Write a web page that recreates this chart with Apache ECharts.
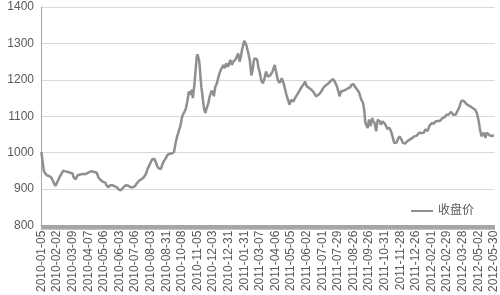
<!DOCTYPE html>
<html>
<head>
<meta charset="utf-8">
<script src="https://cdn.jsdelivr.net/npm/echarts@6/dist/echarts.min.js"></script>
<style>
html,body{margin:0;padding:0;background:#fff;}
#chart{width:500px;height:295px;}
</style>
</head>
<body>
<div id="chart"></div>
<script>
var seriesName = '收盘价';
var tickLabels = ['2010-01-05','2010-02-02','2010-03-09','2010-04-07','2010-05-06','2010-06-03','2010-07-06','2010-08-03','2010-08-31','2010-10-08','2010-11-05','2010-12-03','2010-12-31','2011-01-31','2011-03-07','2011-04-06','2011-05-05','2011-06-02','2011-07-01','2011-07-29','2011-08-26','2011-09-26','2011-10-31','2011-11-28','2011-12-26','2012-02-01','2012-02-29','2012-03-28','2012-05-02','2012-05-30'];
var daysPerLabel = 20;
var closePrices = [
1002,985,968,952,946,941,944,938,943,941,936,940,937,931,927,922,916,912,909,914,918,
923,927,931,936,940,943,945,951,955,953,949,952,950,947,950,946,945,948,950,943,
934,932,929,927,933,937,939,941,938,940,937,939,942,940,938,941,943,940,944,946,
945,948,950,952,949,951,950,947,945,947,945,939,932,929,927,925,923,921,920,917,
918,918,912,909,907,905,908,911,913,914,911,909,911,908,909,906,905,902,899,897,
895,897,900,902,905,907,909,911,914,912,910,908,906,905,904,903,905,907,908,909,
912,915,918,920,923,924,926,927,927,929,932,933,935,942,949,955,960,964,969,973,
978,982,984,986,983,978,972,965,961,958,956,955,955,961,968,973,977,980,982,987,
993,995,998,997,995,996,998,999,1000,1002,1015,1027,1036,1045,1052,1059,1066,1073,1084,1095,
1103,1107,1111,1114,1120,1130,1141,1155,1168,1163,1159,1166,1173,1150,1168,1185,1210,1236,1262,1270,
1271,1255,1235,1205,1180,1164,1145,1127,1117,1109,1116,1123,1130,1136,1148,1157,1163,1170,1173,1164,
1155,1170,1182,1187,1191,1200,1209,1216,1223,1228,1232,1237,1241,1236,1232,1239,1245,1240,1236,1238,
1247,1255,1248,1241,1246,1250,1253,1255,1257,1259,1266,1273,1262,1250,1252,1268,1282,1290,1300,1307,
1309,1302,1293,1283,1275,1265,1255,1235,1212,1220,1232,1250,1259,1262,1264,1257,1250,1236,1227,1218,
1207,1197,1193,1191,1198,1205,1215,1223,1216,1209,1211,1214,1212,1209,1216,1222,1227,1235,1241,1230,
1220,1210,1200,1195,1192,1191,1198,1205,1199,1195,1186,1177,1168,1159,1152,1145,1139,1132,1139,1145,
1144,1142,1141,1146,1150,1152,1155,1160,1164,1168,1172,1175,1177,1182,1186,1188,1192,1195,1188,1182,
1179,1177,1178,1177,1175,1173,1171,1168,1166,1165,1162,1155,1150,1156,1159,1162,1164,1166,1168,1173,
1177,1180,1182,1184,1186,1188,1190,1191,1194,1195,1198,1200,1201,1202,1199,1195,1190,1186,1180,1173,
1164,1155,1162,1168,1171,1173,1170,1168,1169,1173,1175,1176,1177,1175,1173,1180,1186,1189,1191,1188,
1186,1181,1177,1175,1174,1173,1166,1159,1152,1145,1141,1138,1127,1110,1085,1078,1082,1068,1080,1091,
1082,1073,1085,1095,1088,1084,1082,1070,1059,1076,1091,1093,1095,1085,1077,1082,1086,1084,1082,1080,
1077,1072,1066,1064,1066,1068,1063,1059,1052,1045,1036,1027,1025,1023,1028,1032,1038,1043,1045,1043,
1041,1034,1027,1025,1023,1025,1027,1030,1032,1034,1036,1036,1035,1037,1040,1041,1043,1045,1048,1050,
1047,1045,1050,1055,1057,1059,1054,1050,1053,1055,1060,1064,1061,1059,1060,1066,1073,1075,1077,1081,
1084,1082,1080,1083,1086,1084,1082,1087,1090,1091,1088,1086,1091,1095,1094,1093,1098,1102,1104,1105,
1105,1105,1107,1109,1112,1114,1110,1104,1100,1103,1105,1110,1114,1116,1118,1127,1136,1141,1144,1145,
1143,1141,1138,1135,1134,1132,1130,1129,1128,1127,1126,1125,1122,1120,1119,1118,1114,1109,1100,1091,
1078,1064,1055,1045,1045,1050,1055,1048,1041,1048,1055,1052,1050,1048,1046,1045,1046,1047,1049,1048
];
var yMin = 800, yMax = 1400, yStep = 100;

// categories: one per trading day; every 20th carries a tick label
var categories = closePrices.map(function (v, i) {
  var k = Math.floor(i / daysPerLabel);
  return (i % daysPerLabel === 0) ? tickLabels[k] : tickLabels[k] + '#' + (i % daysPerLabel);
});

var fontFam = '"Liberation Sans", Arial, "Noto Sans CJK SC", sans-serif';
var chart = echarts.init(document.getElementById('chart'), null, {renderer: 'canvas'});
chart.setOption({
  animation: false,
  backgroundColor: '#ffffff',
  grid: {left: 41, right: 3, top: 7, bottom: 67, containLabel: false},
  legend: {
    data: [seriesName],
    left: 406, top: 200,
    icon: 'rect', itemWidth: 22, itemHeight: 2,
    textStyle: {fontSize: 12, color: '#595959', fontFamily: fontFam}
  },
  xAxis: {
    type: 'category',
    data: categories,
    boundaryGap: true,
    axisLine: {show: true, lineStyle: {color: '#a6a6a6', width: 1}},
    axisTick: {show: true, interval: 0, length: 4, lineStyle: {color: '#a6a6a6'}},
    axisLabel: {
      interval: daysPerLabel - 1, rotate: 90, margin: 5,
      fontSize: 12, color: '#595959', fontFamily: fontFam
    },
    splitLine: {show: false}
  },
  yAxis: {
    type: 'value',
    min: yMin, max: yMax, interval: yStep,
    axisLine: {show: true, lineStyle: {color: '#a6a6a6', width: 1}},
    axisTick: {show: false},
    axisLabel: {
      fontSize: 12, color: '#595959', fontFamily: fontFam, margin: 7,
      formatter: function (v) { return String(v); }
    },
    splitLine: {show: true, lineStyle: {color: '#d9d9d9', width: 1}}
  },
  series: [{
    name: seriesName,
    type: 'line',
    data: closePrices,
    symbol: 'none',
    showSymbol: false,
    lineStyle: {color: '#8f8f8f', width: 2.5},
    itemStyle: {color: '#8f8f8f'}
  }]
});
</script>
</body>
</html>
